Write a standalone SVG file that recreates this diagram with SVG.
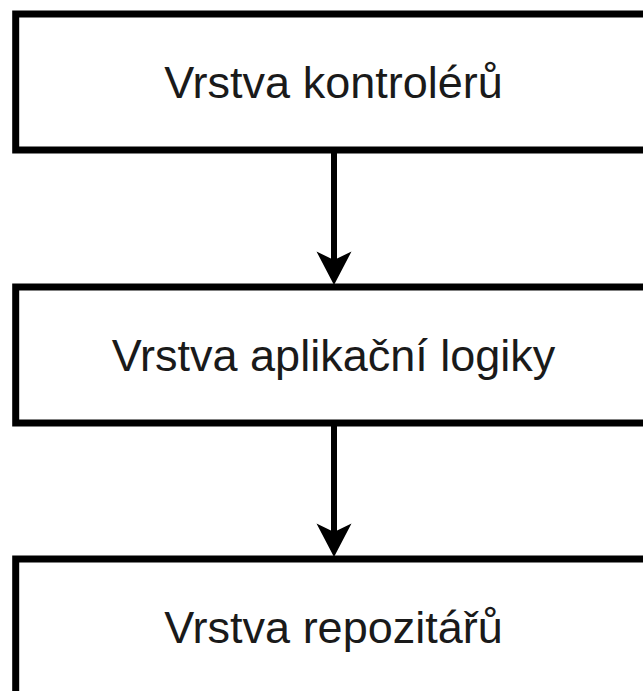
<svg xmlns="http://www.w3.org/2000/svg" width="643" height="691" viewBox="0 0 643 691">
<style>
.box{fill:#ffffff;stroke:#000000;stroke-width:7}
.lbl{font-family:"Liberation Sans",Arial,sans-serif;font-size:45px;fill:#1a1a1a;text-anchor:middle}
.edge{stroke:#000000;stroke-width:6;fill:none}
.head{fill:#000000;stroke:none}
</style>
<rect width="643" height="691" fill="#ffffff"/>
<g id="node-controllers">
<rect class="box" x="15.7" y="14" width="636" height="136"/>
<text class="lbl" x="333.5" y="98">Vrstva kontrolérů</text>
</g>
<g id="node-logic">
<rect class="box" x="15.7" y="287" width="636" height="136"/>
<text class="lbl" x="333.5" y="371">Vrstva aplikační logiky</text>
</g>
<g id="node-repositories">
<rect class="box" x="15.7" y="559" width="636" height="136"/>
<text class="lbl" x="333.5" y="643">Vrstva repozitářů</text>
</g>
<g id="connectors">
<line class="edge" x1="334" y1="150" x2="334" y2="262"/>
<polygon class="head" points="334,285 351.5,251.5 334,260 316.5,251.5"/>
<line class="edge" x1="334" y1="423" x2="334" y2="534"/>
<polygon class="head" points="334,557 351.5,523.5 334,532 316.5,523.5"/>
</g>
</svg>
